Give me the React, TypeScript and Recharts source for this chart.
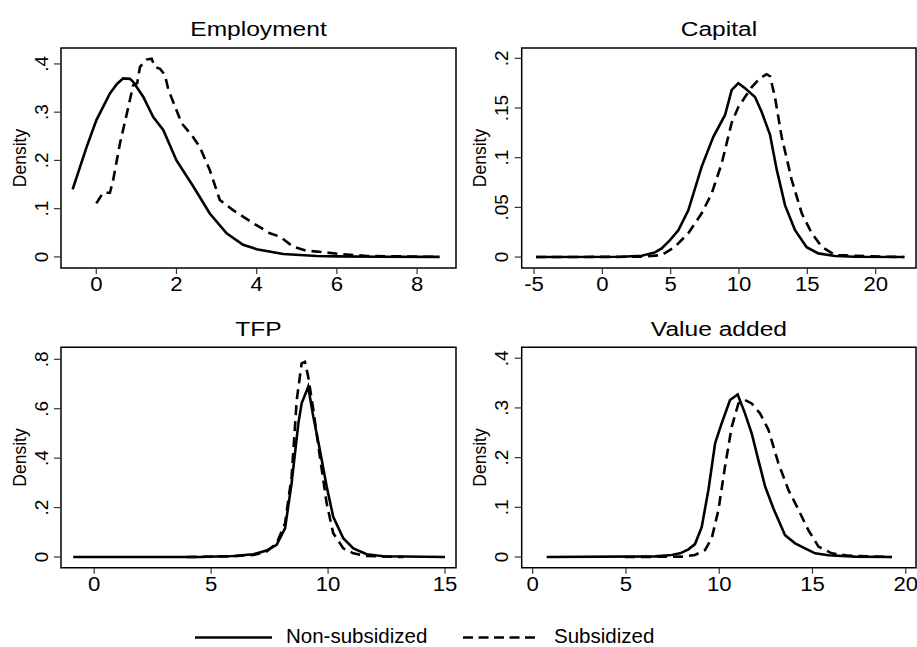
import { LineChart, Line, XAxis, YAxis, ReferenceArea } from "recharts";

const FONT = '"Liberation Sans", Arial, Helvetica, sans-serif';

// [x, density] pairs
const employmentNonSubsidized = [
  [-0.59, 0.14], [-0.24, 0.228], [0, 0.283], [0.34, 0.339], [0.51, 0.358], [0.67, 0.37],
  [0.84, 0.369], [0.92, 0.363], [1.17, 0.332], [1.42, 0.29], [1.67, 0.263], [2.0, 0.2],
  [2.42, 0.146], [2.83, 0.09], [3.25, 0.049], [3.66, 0.025], [4.0, 0.016], [4.66, 0.006],
  [5.5, 0.002], [6.0, 0.001], [7.0, 0.0003], [8.56, 0],
];
const employmentSubsidized = [
  [0, 0.111], [0.17, 0.133], [0.34, 0.133], [0.42, 0.159], [0.59, 0.235], [0.8, 0.311],
  [0.92, 0.356], [1.02, 0.36], [1.09, 0.394], [1.25, 0.409], [1.38, 0.411], [1.46, 0.394],
  [1.59, 0.39], [1.71, 0.377], [1.8, 0.346], [2.0, 0.304], [2.13, 0.277], [2.38, 0.252],
  [2.58, 0.228], [2.83, 0.18], [3.08, 0.118], [3.41, 0.097], [3.91, 0.07], [4.33, 0.049],
  [4.58, 0.042], [4.91, 0.021], [5.24, 0.013], [5.74, 0.009], [6.07, 0.006], [6.74, 0.002],
  [8.56, 0],
];

const capitalNonSubsidized = [
  [-4.85, 0], [1.41, 0.0003], [2.88, 0.0013], [3.85, 0.0047], [4.34, 0.0087], [4.95, 0.017],
  [5.56, 0.027], [6.29, 0.047], [7.27, 0.091], [8.12, 0.121], [8.98, 0.143], [9.46, 0.168],
  [9.95, 0.175], [10.44, 0.17], [11.17, 0.161], [11.66, 0.146], [12.27, 0.123], [12.76, 0.088],
  [13.37, 0.052], [14.1, 0.027], [14.95, 0.01], [15.8, 0.0037], [17.02, 0.001], [18.5, 0.0003],
  [22.1, 0],
];
const capitalSubsidized = [
  [-4.85, 0], [2.88, 0.0003], [4.34, 0.002], [5.32, 0.0104], [6.29, 0.024], [7.27, 0.044],
  [8.0, 0.064], [8.73, 0.094], [9.46, 0.135], [9.95, 0.151], [10.44, 0.161], [10.93, 0.171],
  [11.54, 0.18], [12.02, 0.184], [12.27, 0.182], [12.63, 0.161], [13.12, 0.121], [13.85, 0.078],
  [14.59, 0.044], [15.32, 0.024], [16.05, 0.0104], [17.02, 0.002], [17.76, 0.0017],
  [19.71, 0.0007], [22.1, 0],
];

const tfpNonSubsidized = [
  [-0.9, 0], [4.52, 0], [5.95, 0.004], [6.8, 0.011], [7.37, 0.026], [7.8, 0.049], [8.16, 0.116],
  [8.44, 0.298], [8.73, 0.541], [8.87, 0.622], [9.15, 0.689], [9.37, 0.567], [9.65, 0.433],
  [9.94, 0.285], [10.22, 0.163], [10.65, 0.076], [11.08, 0.035], [11.65, 0.011], [12.36, 0.003],
  [15.0, 0],
];
const tfpSubsidized = [
  [3.95, 0], [5.95, 0.003], [6.8, 0.008], [7.37, 0.022], [7.8, 0.055], [8.16, 0.136],
  [8.44, 0.325], [8.66, 0.635], [8.87, 0.784], [9.01, 0.79], [9.15, 0.73], [9.37, 0.595],
  [9.65, 0.406], [9.94, 0.217], [10.22, 0.096], [10.65, 0.035], [11.08, 0.015], [11.65, 0.004],
  [13.22, 0],
];

const valueAddedNonSubsidized = [
  [0.75, 0], [6.56, 0.0013], [7.45, 0.004], [7.9, 0.0074], [8.35, 0.0154], [8.7, 0.026],
  [9.06, 0.06], [9.42, 0.135], [9.78, 0.229], [10.13, 0.269], [10.58, 0.316], [10.99, 0.327],
  [11.38, 0.289], [11.74, 0.249], [12.1, 0.195], [12.46, 0.142], [12.9, 0.098], [13.53, 0.044],
  [14.07, 0.0275], [14.6, 0.0174], [15.14, 0.0074], [15.85, 0.0034], [17.28, 0.0007], [19.25, 0],
];
const valueAddedSubsidized = [
  [4.95, 0], [7.99, 0.0007], [8.7, 0.004], [9.24, 0.014], [9.6, 0.038], [9.96, 0.095],
  [10.31, 0.182], [10.67, 0.262], [11.03, 0.309], [11.38, 0.316], [11.74, 0.309], [12.19, 0.289],
  [12.64, 0.256], [13.17, 0.189], [13.71, 0.135], [14.25, 0.095], [14.78, 0.054], [15.32, 0.021],
  [16.03, 0.0074], [16.93, 0.0027], [19.25, 0],
];

const employmentXTicks = [0, 2, 4, 6, 8];
const employmentYTicks = [0, 0.1, 0.2, 0.3, 0.4];
const capitalXTicks = [-5, 0, 5, 10, 15, 20];
const capitalYTicks = [0, 0.05, 0.1, 0.15, 0.2];
const tfpXTicks = [0, 5, 10, 15];
const tfpYTicks = [0, 0.2, 0.4, 0.6, 0.8];
const valueAddedXTicks = [0, 5, 10, 15, 20];
const valueAddedYTicks = [0, 0.1, 0.2, 0.3, 0.4];

const SERIES_NAMES = ["Non-subsidized", "Subsidized"];

function toPoints(pairs: number[][]) {
  return pairs.map(([x, y]) => ({ x, y }));
}

// stata style: ".4" instead of "0.4"
function fmtDensity(v: number): string {
  return v === 0 ? "0" : String(v).replace(/^0/, "");
}

function XTick(props: any) {
  const { x, y, payload } = props;
  return (
    <text
      transform={`translate(${x},${y + 15}) scale(1.08,1)`}
      textAnchor="middle"
      fontSize={20.5}
      fontFamily={FONT}
      fill="#000"
    >
      {payload.value}
    </text>
  );
}

function YTick(props: any) {
  const { x, y, payload } = props;
  return (
    <text
      transform={`translate(${x - 4.5},${y}) rotate(-90)`}
      textAnchor="middle"
      fontSize={19}
      fontFamily={FONT}
      fill="#000"
    >
      {fmtDensity(payload.value)}
    </text>
  );
}

interface PanelProps {
  left: number;
  top: number;
  width: number;
  height: number;
  yAxisWidth: number;
  margin: { top: number; right: number; bottom: number };
  xDomain: [number, number];
  yDomain: [number, number];
  xTicks: number[];
  yTicks: number[];
  non: number[][];
  sub: number[][];
}

function DensityPanel(p: PanelProps) {
  return (
    <div style={{ position: "absolute", left: p.left, top: p.top }}>
      <LineChart
        width={p.width}
        height={p.height}
        margin={{ top: p.margin.top, right: p.margin.right, bottom: p.margin.bottom, left: 0 }}
      >
        <XAxis
          type="number"
          dataKey="x"
          domain={p.xDomain}
          ticks={p.xTicks}
          interval={0}
          allowDataOverflow
          axisLine={false}
          tickLine={{ stroke: "#333", strokeWidth: 1.2 }}
          tickSize={6}
          height={30}
          tick={(t: any) => <XTick {...t} />}
        />
        <YAxis
          type="number"
          dataKey="y"
          domain={p.yDomain}
          ticks={p.yTicks}
          interval={0}
          allowDataOverflow
          axisLine={false}
          tickLine={{ stroke: "#333", strokeWidth: 1.2 }}
          tickSize={7}
          width={p.yAxisWidth}
          tick={(t: any) => <YTick {...t} />}
        />
        <ReferenceArea
          x1={p.xDomain[0]}
          x2={p.xDomain[1]}
          y1={p.yDomain[0]}
          y2={p.yDomain[1]}
          fill="none"
          fillOpacity={0}
          stroke="#000"
          strokeWidth={1.5}
          ifOverflow="visible"
        />
        <Line
          data={toPoints(p.non)}
          dataKey="y"
          name={SERIES_NAMES[0]}
          type="linear"
          stroke="#000"
          strokeWidth={2.6}
          dot={false}
          isAnimationActive={false}
        />
        <Line
          data={toPoints(p.sub)}
          dataKey="y"
          name={SERIES_NAMES[1]}
          type="linear"
          stroke="#000"
          strokeWidth={2.6}
          strokeDasharray="10 6"
          dot={false}
          isAnimationActive={false}
        />
      </LineChart>
    </div>
  );
}

const textStyle = { fontFamily: FONT, fill: "#000" };

export default function App() {
  return (
    <div
      style={{
        position: "absolute",
        left: 0,
        top: 0,
        width: 917,
        height: 647,
        background: "#fff",
        overflow: "hidden",
      }}
    >
      <DensityPanel
        left={0} top={0} width={458} height={300} yAxisWidth={61}
        margin={{ top: 48, right: 2, bottom: 2 }}
        xDomain={[-0.88, 8.97]} yDomain={[-0.023, 0.433]}
        xTicks={employmentXTicks} yTicks={employmentYTicks}
        non={employmentNonSubsidized} sub={employmentSubsidized}
      />
      <DensityPanel
        left={460} top={0} width={457} height={300} yAxisWidth={61.7}
        margin={{ top: 48, right: 1, bottom: 2 }}
        xDomain={[-5.9, 22.95]} yDomain={[-0.011, 0.2104]}
        xTicks={capitalXTicks} yTicks={capitalYTicks}
        non={capitalNonSubsidized} sub={capitalSubsidized}
      />
      <DensityPanel
        left={0} top={300} width={458} height={300} yAxisWidth={61}
        margin={{ top: 47.3, right: 2, bottom: 2.3 }}
        xDomain={[-1.42, 15.47]} yDomain={[-0.0433, 0.8486]}
        xTicks={tfpXTicks} yTicks={tfpYTicks}
        non={tfpNonSubsidized} sub={tfpSubsidized}
      />
      <DensityPanel
        left={460} top={300} width={457} height={300} yAxisWidth={61.7}
        margin={{ top: 47.3, right: 1, bottom: 2.3 }}
        xDomain={[-0.59, 20.55]} yDomain={[-0.0215, 0.422]}
        xTicks={valueAddedXTicks} yTicks={valueAddedYTicks}
        non={valueAddedNonSubsidized} sub={valueAddedSubsidized}
      />

      {/* titles, axis titles and the shared legend */}
      <svg
        width={917}
        height={647}
        style={{ position: "absolute", left: 0, top: 0, pointerEvents: "none" }}
      >
        <g fontSize={21} textAnchor="middle" style={textStyle}>
          <text transform="translate(258.5,36) scale(1.17,1)">Employment</text>
          <text transform="translate(718.9,36) scale(1.17,1)">Capital</text>
          <text transform="translate(258.5,335.5) scale(1.17,1)">TFP</text>
          <text transform="translate(718.9,335.5) scale(1.17,1)">Value added</text>
        </g>
        <g fontSize={17.5} textAnchor="middle" style={textStyle}>
          <text transform="translate(25.5,158) rotate(-90)">Density</text>
          <text transform="translate(486.2,158) rotate(-90)">Density</text>
          <text transform="translate(25.5,457.5) rotate(-90)">Density</text>
          <text transform="translate(486.2,457.5) rotate(-90)">Density</text>
        </g>
        <line x1={195} x2={272} y1={637.5} y2={637.5} stroke="#000" strokeWidth={2.7} />
        <text x={286} y={643} fontSize={20.5} style={textStyle}>{SERIES_NAMES[0]}</text>
        <line
          x1={463} x2={540} y1={637.5} y2={637.5}
          stroke="#000" strokeWidth={2.7} strokeDasharray="10 5.5"
        />
        <text x={554} y={643} fontSize={20.5} style={textStyle}>{SERIES_NAMES[1]}</text>
      </svg>
    </div>
  );
}
